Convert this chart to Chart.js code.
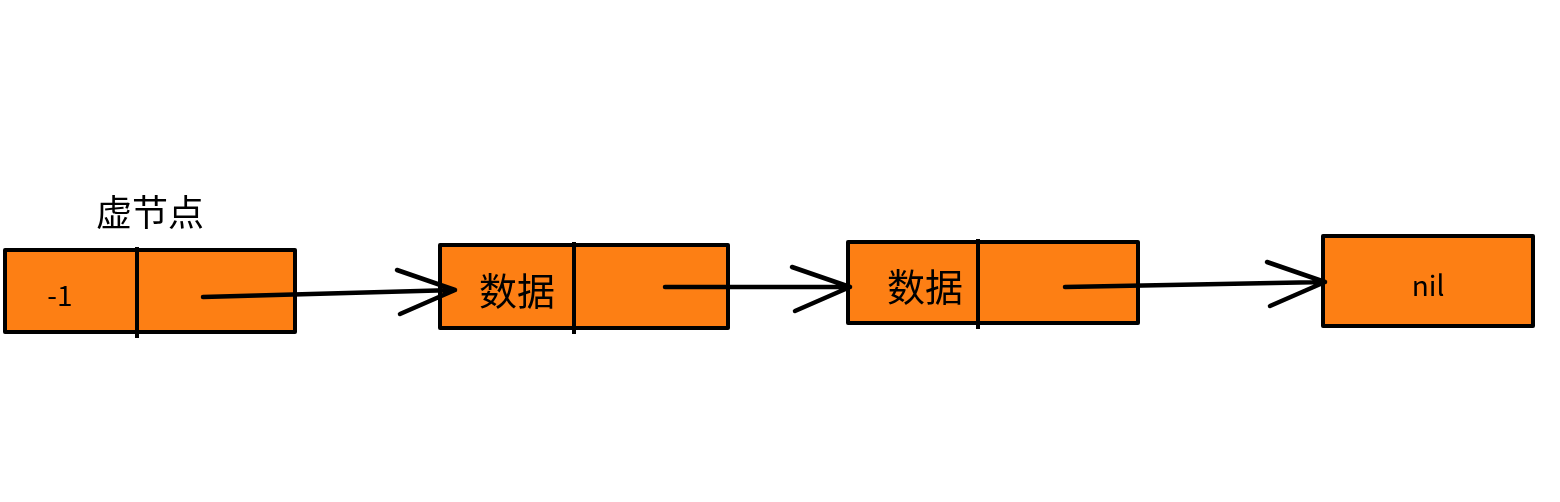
<!DOCTYPE html>
<html>
<head>
<meta charset="utf-8">
<script src="https://cdn.jsdelivr.net/npm/chart.js@4"></script>
<style>
  html, body { margin: 0; padding: 0; background: #fff; }
  canvas { display: block; }
</style>
</head>
<body>
<canvas id="c" width="1560" height="502"></canvas>
<script>
// linked list nodes (diagram units)
const nodeLabels = ['-1', '数据', '数据', 'nil'];
const nodeLeft = [5, 440, 848, 1323];
const nodeRight = [295, 728, 1138, 1533];
const nodeTop = [250, 245, 242, 236];
const nodeBottom = [332, 328, 323, 326];
const nodeDivider = [137, 574, 978, null];
const nodeTextX = [60, 517, 925, 1428];
const headLabel = '虚节点';

// arrows: tail -> tip
const arrowTail = [[203, 297], [665, 287], [1065, 287]];
const arrowTip = [[455, 290], [850, 287], [1325, 282]];

function arrowPoints(i) {
  const [tx, ty] = arrowTail[i];
  const [hx, hy] = arrowTip[i];
  return [
    { x: tx, y: ty }, { x: hx, y: hy }, { x: null, y: null },
    { x: hx - 58, y: hy - 20 }, { x: hx, y: hy }, { x: hx - 55, y: hy + 24 }
  ];
}

const nodesPlugin = {
  id: 'nodes',
  beforeDatasetsDraw(chart) {
    const { ctx, scales: { x, y } } = chart;
    ctx.save();
    ctx.lineWidth = 4;
    ctx.lineJoin = 'round';
    ctx.strokeStyle = '#000';
    nodeLabels.forEach((label, i) => {
      const l = x.getPixelForValue(nodeLeft[i]);
      const r = x.getPixelForValue(nodeRight[i]);
      const t = y.getPixelForValue(nodeTop[i]);
      const b = y.getPixelForValue(nodeBottom[i]);
      ctx.fillStyle = '#FD7F14';
      ctx.fillRect(l, t, r - l, b - t);
      ctx.strokeRect(l, t, r - l, b - t);
      if (nodeDivider[i] !== null) {
        const d = x.getPixelForValue(nodeDivider[i]);
        ctx.beginPath();
        ctx.moveTo(d, t - 3);
        ctx.lineTo(d, b + 6);
        ctx.stroke();
      }
      ctx.fillStyle = '#000';
      ctx.textAlign = 'center';
      ctx.textBaseline = 'middle';
      const cjk = label === '数据';
      ctx.font = (cjk ? '38px' : '28px') + ' "Noto Sans CJK SC", "Noto Sans", sans-serif';
      ctx.fillText(label, x.getPixelForValue(nodeTextX[i]), (t + b) / 2 + 4);
    });
    ctx.font = '36px "Noto Sans CJK SC", sans-serif';
    ctx.textAlign = 'center';
    ctx.textBaseline = 'middle';
    ctx.fillText(headLabel, x.getPixelForValue(150), y.getPixelForValue(212));
    ctx.restore();
  }
};

new Chart(document.getElementById('c'), {
  type: 'scatter',
  data: {
    datasets: arrowTail.map((_, i) => ({
      data: arrowPoints(i),
      showLine: true,
      spanGaps: false,
      borderColor: '#000',
      borderWidth: 4.5,
      pointRadius: 0,
      borderCapStyle: 'round',
      borderJoinStyle: 'round'
    }))
  },
  options: {
    responsive: false,
    animation: false,
    layout: { padding: 0 },
    plugins: { legend: { display: false }, tooltip: { enabled: false } },
    scales: {
      x: { type: 'linear', min: 0, max: 1560, display: false },
      y: { type: 'linear', min: 0, max: 502, reverse: true, display: false }
    }
  },
  plugins: [nodesPlugin]
});
</script>
</body>
</html>
